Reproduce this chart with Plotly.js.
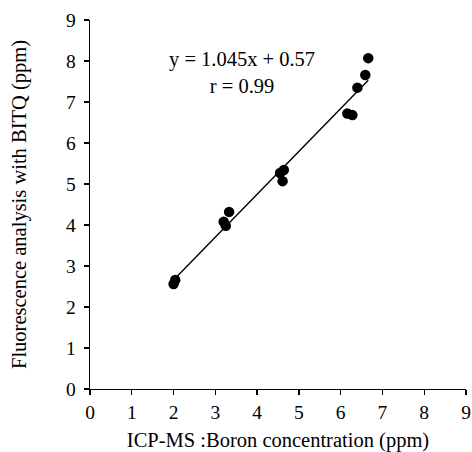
<!DOCTYPE html>
<html>
<head>
<meta charset="utf-8">
<script src="https://cdn.plot.ly/plotly-3.0.1.min.js"></script>
<style>
  html, body { margin: 0; padding: 0; background: #fff; }
  #chart { width: 472px; height: 452px; }
</style>
</head>
<body>
<div id="chart"></div>
<script>
// Boron concentration: ICP-MS reference vs. BITQ fluorescence assay
const icpms = [2.00, 2.04, 3.20, 3.25, 3.33, 4.55, 4.61, 4.64, 6.16, 6.28, 6.40, 6.59, 6.66];
const bitq  = [2.56, 2.66, 4.08, 3.98, 4.32, 5.27, 5.07, 5.34, 6.72, 6.68, 7.35, 7.66, 8.07];

// Linear fit reported for the data set
const slope = 1.045;
const intercept = 0.57;
const rValue = 0.99;

const xFit = [Math.min(...icpms), Math.max(...icpms)];
const yFit = xFit.map(x => slope * x + intercept);

const font = 'Liberation Serif, Times New Roman, serif';

const traces = [
  {
    x: xFit, y: yFit, type: 'scatter', mode: 'lines',
    line: { color: '#000', width: 1.4 }, hoverinfo: 'skip'
  },
  {
    x: icpms, y: bitq, type: 'scatter', mode: 'markers',
    marker: { color: '#000', size: 10.5 }
  }
];

const axisCommon = {
  range: [0, 9], dtick: 1, tick0: 0,
  showgrid: false, zeroline: false,
  showline: true, linecolor: '#000', linewidth: 1.3,
  ticks: 'outside', ticklen: 5, tickwidth: 1.3, tickcolor: '#000',
  tickfont: { family: font, size: 19.5, color: '#000' }
};

const layout = {
  width: 472, height: 452,
  margin: { l: 90, r: 6, t: 20, b: 63 },
  paper_bgcolor: '#fff', plot_bgcolor: '#fff',
  showlegend: false,
  font: { family: font, color: '#000' },
  xaxis: Object.assign({}, axisCommon, {
    title: { text: 'ICP-MS :Boron concentration (ppm)', font: { family: font, size: 20.5, color: '#000' }, standoff: 12 }
  }),
  yaxis: Object.assign({}, axisCommon, {
    ticklabelstandoff: 4,
    title: { text: 'Fluorescence analysis with BITQ (ppm)', font: { family: font, size: 20.5, color: '#000' }, standoff: 34 }
  }),
  annotations: [{
    xref: 'x', yref: 'y', x: 3.65, y: 7.72, showarrow: false,
    text: 'y = ' + slope.toFixed(3) + 'x + ' + intercept.toFixed(2) + '<br>r = ' + rValue.toFixed(2),
    font: { family: font, size: 20.5, color: '#000' }, align: 'center'
  }]
};

Plotly.newPlot('chart', traces, layout, { displayModeBar: false, staticPlot: true });
</script>
</body>
</html>
